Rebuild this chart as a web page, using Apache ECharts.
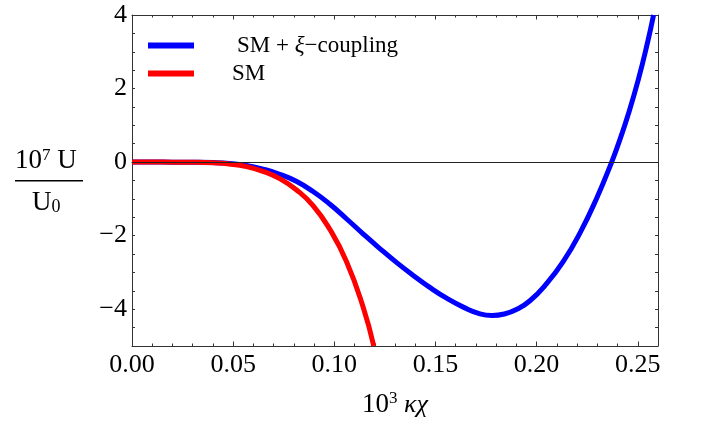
<!DOCTYPE html>
<html>
<head>
<meta charset="utf-8">
<script src="https://cdn.jsdelivr.net/npm/echarts@6/dist/echarts.min.js"></script>
<style>
  html, body { margin: 0; padding: 0; background: #ffffff; }
  #chart { width: 702px; height: 428px; }
</style>
</head>
<body>
<div id="chart"></div>
<script>
// Potential U/U0 (×10^7) against 10^3 κχ
const xCoupled = [0.000, 0.010, 0.020, 0.030, 0.040, 0.0483, 0.0565, 0.0647, 0.073, 0.0812,
  0.0895, 0.0977, 0.106, 0.1142, 0.1225, 0.131, 0.139, 0.147, 0.1555, 0.164,
  0.172, 0.178, 0.184, 0.190, 0.1967, 0.205, 0.2132, 0.2214, 0.2297, 0.2371,
  0.2412, 0.2453, 0.2503, 0.2547, 0.2578];
const uCoupled = [0.000, 0.000, -0.001, -0.004, -0.012, -0.035, -0.09, -0.19, -0.33, -0.52,
  -0.80, -1.14, -1.54, -1.95, -2.35, -2.74, -3.08, -3.40, -3.70, -3.95,
  -4.125, -4.17, -4.13, -4.01, -3.77, -3.30, -2.70, -1.93, -0.98, 0.00,
  0.62, 1.30, 2.25, 3.22, 4.00];

const xSM = [0.000, 0.010, 0.020, 0.030, 0.040, 0.048, 0.0565, 0.0647, 0.073, 0.0812,
  0.0895, 0.0977, 0.106, 0.1142, 0.1195];
const uSM = [0.000, 0.000, -0.001, -0.005, -0.02, -0.05, -0.12, -0.25, -0.45, -0.75,
  -1.18, -1.82, -2.70, -3.93, -5.00];

const seriesNames = ['SM + ξ−coupling', 'SM'];
const seriesColors = ['#0000ff', '#ff0000'];

const xTickValues = [0, 0.05, 0.10, 0.15, 0.20, 0.25];
const xTickLabels = ['0.00', '0.05', '0.10', '0.15', '0.20', '0.25'];
const yTickValues = [4, 2, 0, -2, -4];
const yTickLabels = ['4', '2', '0', '\u22122', '\u22124'];

const FONT = 'Liberation Serif';
const FRAME = '#333333';

function pairs(xs, ys) { return xs.map((x, i) => [x, ys[i]]); }
function pickLabel(values, labels) {
  return function (v) {
    for (let i = 0; i < values.length; i++) {
      if (Math.abs(values[i] - v) < 1e-6) return labels[i];
    }
    return '';
  };
}

const xBase = { type: 'value', min: 0, max: 0.26, splitLine: { show: false } };
const yBase = { type: 'value', min: -5, max: 4, splitLine: { show: false } };

const chart = echarts.init(document.getElementById('chart'), null, { renderer: 'canvas' });

chart.setOption({
  animation: false,
  backgroundColor: '#ffffff',
  grid: { left: 132, right: 44, top: 15, bottom: 82, containLabel: false },
  legend: {
    orient: 'vertical',
    left: 148,
    top: 34,
    padding: 0,
    icon: 'rect',
    itemWidth: 46,
    itemHeight: 6,
    itemGap: 5,
    selectedMode: false,
    data: [
      { name: seriesNames[0], textStyle: { padding: [0, 0, 0, 38] } },
      { name: seriesNames[1], textStyle: { padding: [0, 0, 0, 33] } }
    ],
    formatter: function (name) {
      return name === seriesNames[0] ? '{r|SM + }{i|ξ}{r|−coupling}' : '{r|SM}';
    },
    textStyle: {
      fontFamily: FONT, fontSize: 23, color: '#000', lineHeight: 23,
      rich: {
        r: { fontFamily: FONT, fontSize: 23, color: '#000', lineHeight: 23 },
        i: { fontFamily: FONT, fontSize: 23, fontStyle: 'italic', color: '#000', lineHeight: 23 }
      }
    }
  },
  xAxis: [
    Object.assign({}, xBase, {
      position: 'bottom', interval: 0.01,
      axisLine: { show: true, onZero: false, lineStyle: { color: FRAME, width: 1 } },
      axisTick: { show: true, inside: true, length: 2.5, lineStyle: { color: FRAME, width: 1 } },
      axisLabel: {
        show: true, margin: 6, fontFamily: FONT, fontSize: 26, color: '#000',
        formatter: pickLabel(xTickValues, xTickLabels)
      },
      name: '{n|10}{s|3}{g| κχ}',
      nameLocation: 'middle',
      nameGap: 44,
      nameTextStyle: {
        rich: {
          n: { fontFamily: FONT, fontSize: 27, color: '#000', lineHeight: 30 },
          s: { fontFamily: FONT, fontSize: 17, color: '#000', verticalAlign: 'top', lineHeight: 17 },
          g: { fontFamily: FONT, fontSize: 26, fontStyle: 'italic', color: '#000', lineHeight: 30 }
        }
      }
    }),
    Object.assign({}, xBase, {
      position: 'bottom', interval: 0.05,
      axisLine: { show: false, onZero: false },
      axisTick: { show: true, inside: true, length: 4.5, lineStyle: { color: FRAME, width: 1 } },
      axisLabel: { show: false }
    }),
    Object.assign({}, xBase, {
      position: 'top', interval: 0.01,
      axisLine: { show: true, onZero: false, lineStyle: { color: FRAME, width: 1 } },
      axisTick: { show: true, inside: true, length: 2.5, lineStyle: { color: FRAME, width: 1 } },
      axisLabel: { show: false }
    }),
    Object.assign({}, xBase, {
      position: 'top', interval: 0.05,
      axisLine: { show: false, onZero: false },
      axisTick: { show: true, inside: true, length: 4.5, lineStyle: { color: FRAME, width: 1 } },
      axisLabel: { show: false }
    }),
    // horizontal reference line at U = 0
    Object.assign({}, xBase, {
      position: 'bottom', z: 5,
      axisLine: { show: true, onZero: true, onZeroAxisIndex: 0, lineStyle: { color: '#222', width: 1 } },
      axisTick: { show: false },
      axisLabel: { show: false }
    })
  ],
  yAxis: [
    Object.assign({}, yBase, {
      position: 'left', interval: 0.5,
      axisLine: { show: true, onZero: false, lineStyle: { color: FRAME, width: 1 } },
      axisTick: { show: true, inside: true, length: 3, lineStyle: { color: FRAME, width: 1 } },
      axisLabel: {
        show: true, margin: 5, fontFamily: FONT, fontSize: 26, color: '#000',
        formatter: pickLabel(yTickValues, yTickLabels)
      }
    }),
    Object.assign({}, yBase, {
      position: 'right', interval: 0.5,
      axisLine: { show: true, onZero: false, lineStyle: { color: FRAME, width: 1 } },
      axisTick: { show: true, inside: true, length: 3, lineStyle: { color: FRAME, width: 1 } },
      axisLabel: { show: false }
    })
  ],
  graphic: [
    {
      type: 'text', left: 15, top: 147,
      style: {
        text: '{n|10}{s|7}{n| U}',
        rich: {
          n: { fontFamily: FONT, fontSize: 27, fill: '#000', lineHeight: 27 },
          s: { fontFamily: FONT, fontSize: 17, fill: '#000', verticalAlign: 'top', lineHeight: 17 }
        }
      }
    },
    {
      type: 'line',
      shape: { x1: 15, y1: 180.7, x2: 83, y2: 180.7 },
      style: { stroke: '#000', lineWidth: 1.4 }
    },
    {
      type: 'text', left: 32, top: 189,
      style: {
        text: '{n|U}{s|0}',
        rich: {
          n: { fontFamily: FONT, fontSize: 27, fill: '#000', lineHeight: 27 },
          s: { fontFamily: FONT, fontSize: 18, fill: '#000', verticalAlign: 'bottom', lineHeight: 14 }
        }
      }
    }
  ],
  series: [
    {
      name: seriesNames[0], type: 'line', xAxisIndex: 0, yAxisIndex: 0,
      data: pairs(xCoupled, uCoupled), smooth: true, showSymbol: false, symbol: 'none',
      clip: true, z: 2,
      lineStyle: { color: seriesColors[0], width: 5 }, itemStyle: { color: seriesColors[0] }
    },
    {
      name: seriesNames[1], type: 'line', xAxisIndex: 0, yAxisIndex: 0,
      data: pairs(xSM, uSM), smooth: true, showSymbol: false, symbol: 'none',
      clip: true, z: 3,
      lineStyle: { color: seriesColors[1], width: 5 }, itemStyle: { color: seriesColors[1] }
    }
  ]
});
</script>
</body>
</html>
